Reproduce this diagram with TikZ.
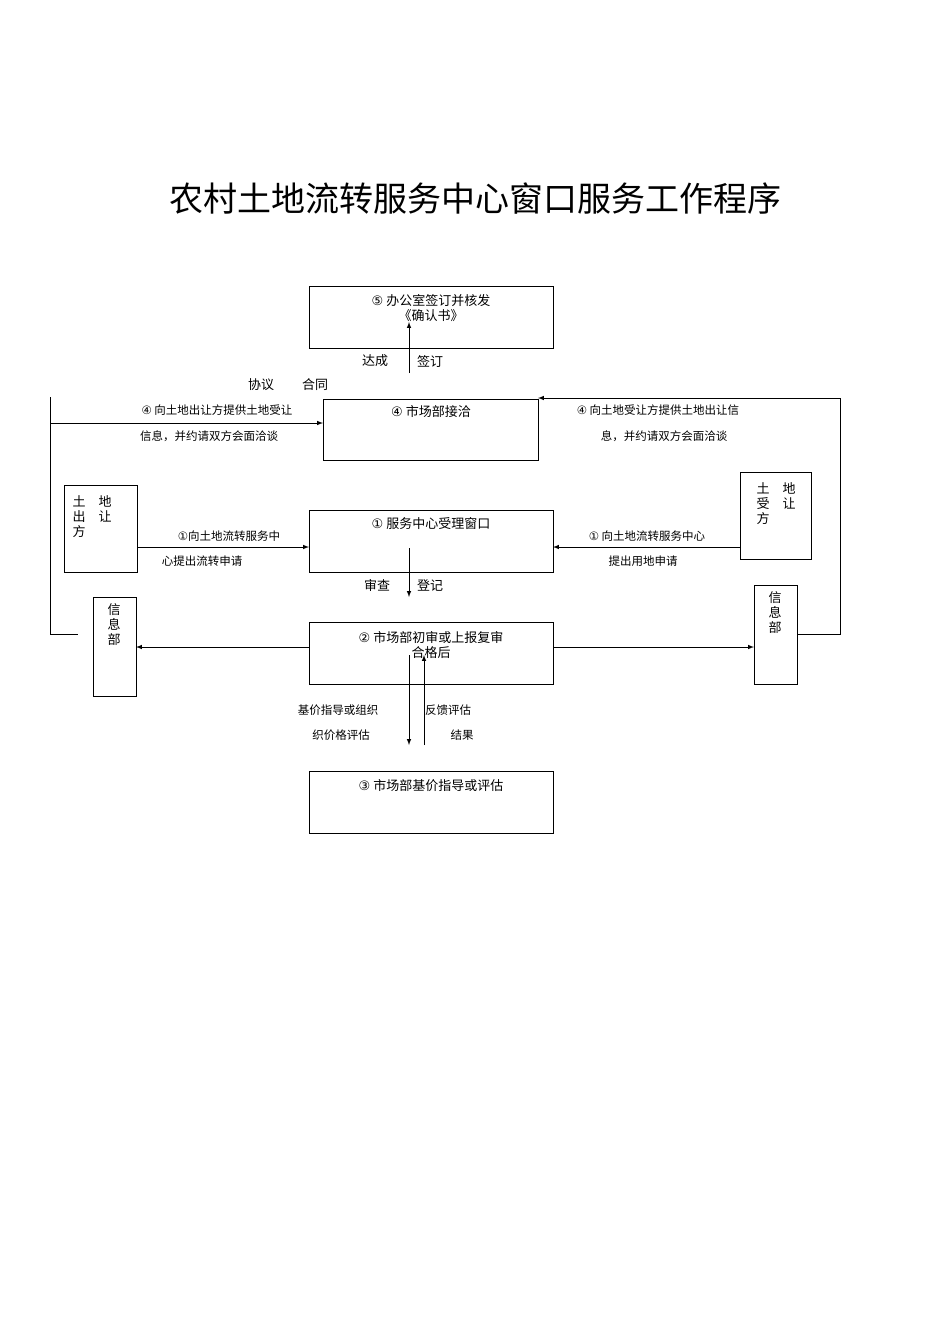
\documentclass[tikz,border=0pt]{standalone}
\usepackage{fontspec}
\setmainfont{Noto Sans CJK SC}
\newfontfamily\sym{DejaVu Sans}
\begin{document}
\begin{tikzpicture}[x=1pt,y=-1pt,line width=1pt,
 bx/.style={draw},
 lb/.style={font=\fontsize{13}{15}\selectfont,inner sep=0},
 sl/.style={font=\fontsize{11.5}{13}\selectfont,inner sep=0},
 ar/.style={-latex}]
\useasboundingbox (0,0) rectangle (950,1344);
\node[inner sep=0,font=\fontsize{34}{38}\selectfont] (t) at (475,199) {农村土地流转服务中心窗口服务工作程序};
\draw[bx] (309,286) rectangle (553,348) coordinate (b5c);
\node[lb,align=center] (b5) at (431,308) {{\sym ⑤} 办公室签订并核发\\《确认书》};
\draw[bx] (323,399) rectangle (538,460);
\node[lb] (b4) at (431,412) {{\sym ④} 市场部接洽};
\draw[bx] (309,510) rectangle (553,572);
\node[lb] (b1) at (431,524) {{\sym ①} 服务中心受理窗口};
\draw[bx] (309,622) rectangle (553,684);
\node[lb,align=center] (b2) at (431,645) {{\sym ②} 市场部初审或上报复审\\合格后};
\draw[bx] (309,771) rectangle (553,833);
\node[lb] (b3) at (431,786) {{\sym ③} 市场部基价指导或评估};
\draw[bx] (64,485) rectangle (137,572);
\node[lb,align=left] (ll) at (92,517) {土\quad 地\\出\quad 让\\方};
\draw[bx] (740,472) rectangle (811,559);
\node[lb,align=left] (rl) at (776,504) {土\quad 地\\受\quad 让\\方};
\draw[bx] (93,597) rectangle (136,696);
\node[lb,align=center] (li) at (114,625) {信\\息\\部};
\draw[bx] (754,585) rectangle (797,684);
\node[lb,align=center] (ri) at (775,613) {信\\息\\部};
% connectors
\coordinate (c1) at (50,397); \coordinate (c2) at (50,634); \coordinate (c3) at (78,634);
\draw (c1) -- (c2) -- (c3);
\draw[ar] (50,423) -- (323,423);
\draw (797,634) -- (840,634) -- (840,398);
\draw[ar] (840,398) -- (538,398);
\draw[ar] (137,547) -- (309,547);
\draw[ar] (740,547) -- (553,547);
\draw[ar] (309,647) -- (136,647);
\draw[ar] (553,647) -- (754,647);
\draw[ar] (409,548) -- (409,597);
\draw[ar] (409,373) -- (409,322);
\draw[ar] (409,655) -- (409,745);
\draw[ar] (424,745) -- (424,655);
% labels
\node[lb] (a1) at (375,361) {达成};
\node[lb] (a2) at (430,361) {签订};
\node[lb] (a3) at (261,385) {协议};
\node[lb] (a4) at (315,385) {合同};
\node[sl] (s1) at (217,410) {{\sym ④} 向土地出让方提供土地受让};
\node[sl] (s2) at (209,436) {信息，并约请双方会面洽谈};
\node[sl] (s3) at (658,410) {{\sym ④} 向土地受让方提供土地出让信};
\node[sl] (s4) at (664,436) {息，并约请双方会面洽谈};
\node[sl] (s5) at (229,536) {{\sym ①}向土地流转服务中};
\node[sl] (s6) at (202,561) {心提出流转申请};
\node[sl] (s7) at (647,536) {{\sym ①} 向土地流转服务中心};
\node[sl] (s8) at (643,561) {提出用地申请};
\node[lb] (s9) at (377,585) {审查};
\node[lb] (s10) at (430,585) {登记};
\node[sl] (s11) at (338,710) {基价指导或组织};
\node[sl] (s12) at (341,735) {织价格评估};
\node[sl] (s13) at (448,710) {反馈评估};
\node[sl] (s14) at (462,735) {结果};
\end{tikzpicture}
\end{document}
